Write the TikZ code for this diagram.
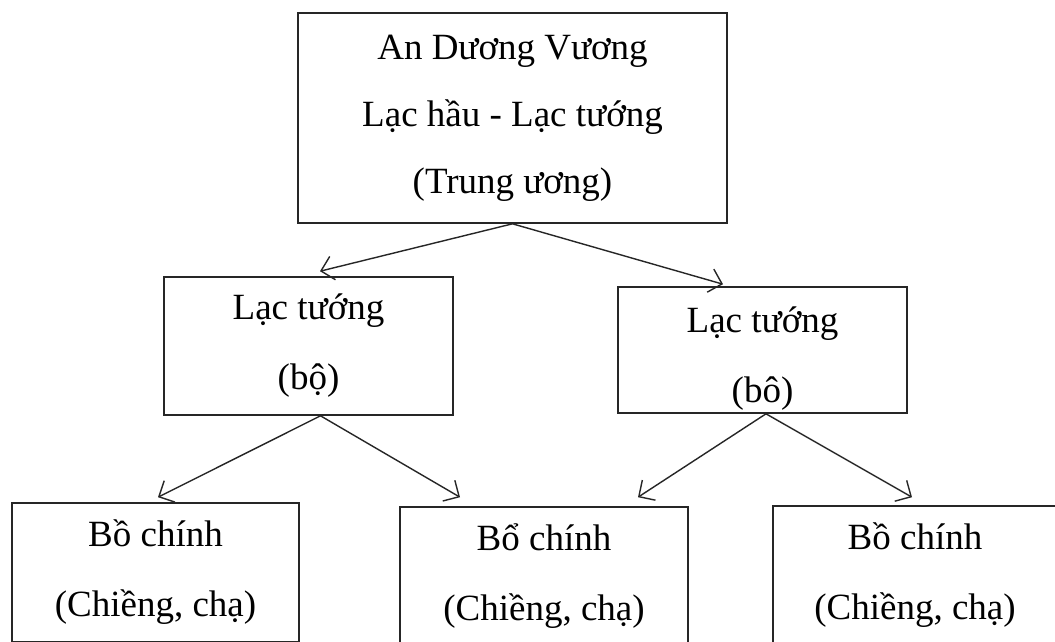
\documentclass[tikz,border=0pt]{standalone}
\usepackage{fontspec}
\setmainfont{Liberation Serif}
\usetikzlibrary{arrows.meta}
\begin{document}
\begin{tikzpicture}[x=1pt,y=-1pt,
  box/.style={draw=black!85, line width=1.6pt, align=center, inner sep=0pt,
    font=\fontsize{37}{70}\selectfont},
  arr/.style={draw=black!85, line width=1.4pt, -{Straight Barb[length=12pt,width=24pt,line width=1.4pt]}}]
\clip (0,0) rectangle (1055,641);
\fill[white] (0,0) rectangle (1055,641);
\node[box, minimum width=429pt, minimum height=210pt, font=\fontsize{37}{67}\selectfont] (top) at (512.5,118)
  {An Dương Vương\\Lạc hầu - Lạc tướng\\(Trung ương)};
\node[box, minimum width=289pt, minimum height=138pt] (l1) at (308.5,346) {Lạc tướng\\(bộ)};
\node[box, minimum width=289pt, minimum height=126pt] (r1) at (762.5,350) {\rule{0pt}{42pt}Lạc tướng\\(bô)};
\node[box, minimum width=287pt, minimum height=139pt] (b1) at (155.5,572.5) {Bồ chính\\(Chiềng, chạ)};
\node[box, minimum width=288pt, minimum height=138pt] (b2) at (544,576) {Bổ chính\\(Chiềng, chạ)};
\node[box, minimum width=284pt, minimum height=138pt] (b3) at (915,575) {Bồ chính\\(Chiềng, chạ)};
\draw[arr] (top.south) -- ([xshift=11.5pt,yshift=5pt]l1.north);
\draw[arr] (top.south) -- ([xshift=-39.5pt,yshift=2pt]r1.north);
\draw[arr] ([xshift=12pt]l1.south) -- ([xshift=2.5pt,yshift=5pt]b1.north);
\draw[arr] ([xshift=12pt]l1.south) -- ([xshift=-84pt,yshift=9pt]b2.north);
\draw[arr] ([xshift=3.5pt]r1.south) -- ([xshift=94pt,yshift=9pt]b2.north);
\draw[arr] ([xshift=3.5pt]r1.south) -- ([xshift=-3pt,yshift=8pt]b3.north);
\end{tikzpicture}
\end{document}
